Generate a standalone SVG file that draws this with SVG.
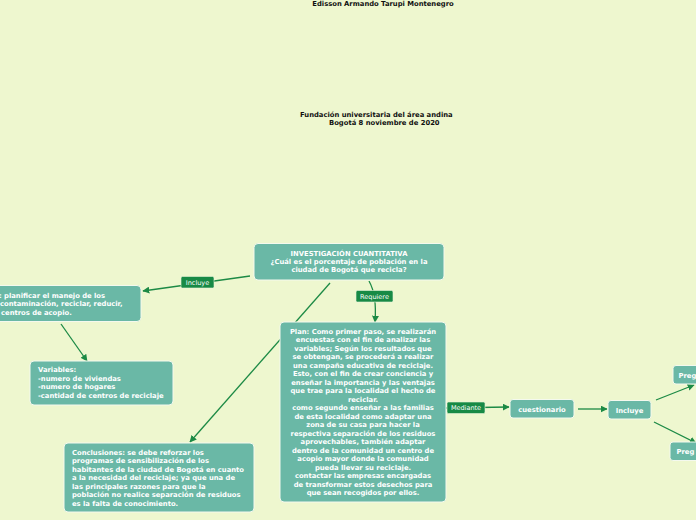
<svg xmlns="http://www.w3.org/2000/svg" width="696" height="520" viewBox="0 0 696 520">
<defs>
<style>
.n{fill:#6ab8a6;stroke:#f4f9ee;stroke-width:1}
.t{font-family:"DejaVu Sans",Verdana,sans-serif;font-weight:bold;font-size:6.8px;fill:#ffffff}
.c{text-anchor:middle}
.h{font-family:"DejaVu Sans",Verdana,sans-serif;font-weight:bold;font-size:6.8px;fill:#111111}
.e{fill:none;stroke:#1c8a45;stroke-width:1.3}
.lb{fill:#178a45;stroke:#e8f3da;stroke-width:0.6}
.lt{font-family:"DejaVu Sans",Verdana,sans-serif;font-size:6.5px;fill:#ffffff;text-anchor:middle}
</style>
<marker id="a" viewBox="0 0 10 10" refX="9" refY="5" markerWidth="7" markerHeight="7" orient="auto" markerUnits="userSpaceOnUse">
<path d="M0,0 L10,5 L0,10 z" fill="#1c8a45"/>
</marker>
</defs>
<rect width="696" height="520" fill="#eef7cf"/>
<g id="titles">
<text class="h c" x="383" y="6">Edisson Armando Tarupi Montenegro</text>
<text class="h" x="300" y="117">Fundación universitaria del área andina</text>
<text class="h" x="329" y="125">Bogotá 8 noviembre de 2020</text>
</g>
<g id="connectors">
<path class="e" d="M250,276 L143,291" marker-end="url(#a)"/>
<path class="e" d="M369,281 Q377,295 375,322" marker-end="url(#a)"/>
<path class="e" d="M330,283 L190,442" marker-end="url(#a)"/>
<path class="e" d="M61,324 L87,361" marker-end="url(#a)"/>
<path class="e" d="M446,408 L509,407" marker-end="url(#a)"/>
<path class="e" d="M578,409 L607,409" marker-end="url(#a)"/>
<path class="e" d="M656,400 L694,385" marker-end="url(#a)"/>
<path class="e" d="M654,422 L696,443" marker-end="url(#a)"/>
</g>
<g id="lbl-incluye">
<rect class="lb" x="181" y="276.5" width="33" height="11.5" rx="1.5"/>
<text class="lt" x="197.5" y="284.8">Incluye</text>
</g>
<g id="lbl-requiere">
<rect class="lb" x="356" y="290.5" width="37" height="11.5" rx="1.5"/>
<text class="lt" x="374.5" y="298.8">Requiere</text>
</g>
<g id="lbl-mediante">
<rect class="lb" x="447" y="402" width="38" height="11.5" rx="1.5"/>
<text class="lt" x="466" y="410.3">Mediante</text>
</g>
<g id="main">
<rect class="n" x="254" y="243.5" width="190" height="36.5" rx="4"/>
<text class="t c" x="349" y="255.5">INVESTIGACIÓN CUANTITATIVA</text>
<text class="t c" x="349" y="263.5">¿Cuál es el porcentaje de población en la</text>
<text class="t c" x="349" y="272">ciudad de Bogotá que recicla?</text>
</g>
<g id="objetivo">
<rect class="n" x="-10" y="285.5" width="151" height="36" rx="4"/>
<text class="t" x="-1" y="298">: planificar el manejo de los</text>
<text class="t" x="0" y="306">contaminación, reciclar, reducir,</text>
<text class="t" x="1" y="314.5">centros de acopio.</text>
</g>
<g id="variables">
<rect class="n" x="30" y="361" width="143" height="44" rx="4"/>
<text class="t" x="38" y="372">Variables:</text>
<text class="t" x="38" y="380.5">-numero de viviendas</text>
<text class="t" x="38" y="389">-numero de hogares</text>
<text class="t" x="38" y="397.5">-cantidad de centros de reciclaje</text>
</g>
<g id="plan">
<rect class="n" x="280" y="322" width="166" height="180" rx="4"/>
<text class="t c" x="363" y="333.5">Plan: Como primer paso, se realizarán</text>
<text class="t c" x="363" y="342">encuestas con el fin de analizar las</text>
<text class="t c" x="363" y="350.5">variables; Según los resultados que</text>
<text class="t c" x="363" y="359">se obtengan, se procederá a realizar</text>
<text class="t c" x="363" y="367.5">una campaña educativa  de reciclaje.</text>
<text class="t c" x="363" y="376">Esto, con el fin de crear conciencia y</text>
<text class="t c" x="363" y="384.5">enseñar la importancia y las ventajas</text>
<text class="t c" x="363" y="393">que trae para la localidad el hecho de</text>
<text class="t c" x="363" y="401.5">reciclar.</text>
<text class="t c" x="363" y="410">como segundo enseñar a las familias</text>
<text class="t c" x="363" y="418.5">de esta localidad como adaptar una</text>
<text class="t c" x="363" y="427">zona de su casa para hacer la</text>
<text class="t c" x="363" y="435.5">respectiva separación de los residuos</text>
<text class="t c" x="363" y="444">aprovechables, también adaptar</text>
<text class="t c" x="363" y="452.5">dentro de la comunidad un centro de</text>
<text class="t c" x="363" y="461">acopio mayor donde la comunidad</text>
<text class="t c" x="363" y="469.5">pueda llevar su reciclaje.</text>
<text class="t c" x="363" y="478">contactar las empresas encargadas</text>
<text class="t c" x="363" y="486.5">de transformar estos desechos para</text>
<text class="t c" x="363" y="495">que sean recogidos por ellos.</text>
</g>
<g id="conclusiones">
<rect class="n" x="64" y="443" width="190" height="69" rx="4"/>
<text class="t" x="72" y="454.5">Conclusiones: se debe reforzar los</text>
<text class="t" x="72" y="463">programas de sensibilización de los</text>
<text class="t" x="72" y="471.5">habitantes de la ciudad de Bogotá en cuanto</text>
<text class="t" x="72" y="480">a la necesidad del reciclaje; ya que una de</text>
<text class="t" x="72" y="488.5">las principales razones para que la</text>
<text class="t" x="72" y="497">población no realice separación de residuos</text>
<text class="t" x="72" y="505.5">es la falta de conocimiento.</text>
</g>
<g id="cuestionario">
<rect class="n" x="510" y="399.5" width="64" height="18.5" rx="3"/>
<text class="t c" x="542" y="411.5">cuestionario</text>
</g>
<g id="incluye">
<rect class="n" x="608" y="400.5" width="43" height="18.5" rx="3"/>
<text class="t c" x="629.5" y="412.5">Incluye</text>
</g>
<g id="preg1">
<rect class="n" x="673" y="365.5" width="40" height="18.5" rx="3"/>
<text class="t" x="678.5" y="377.5">Preg</text>
</g>
<g id="preg2">
<rect class="n" x="670" y="442" width="40" height="18.5" rx="3"/>
<text class="t" x="676.5" y="454">Preg</text>
</g>
</svg>
